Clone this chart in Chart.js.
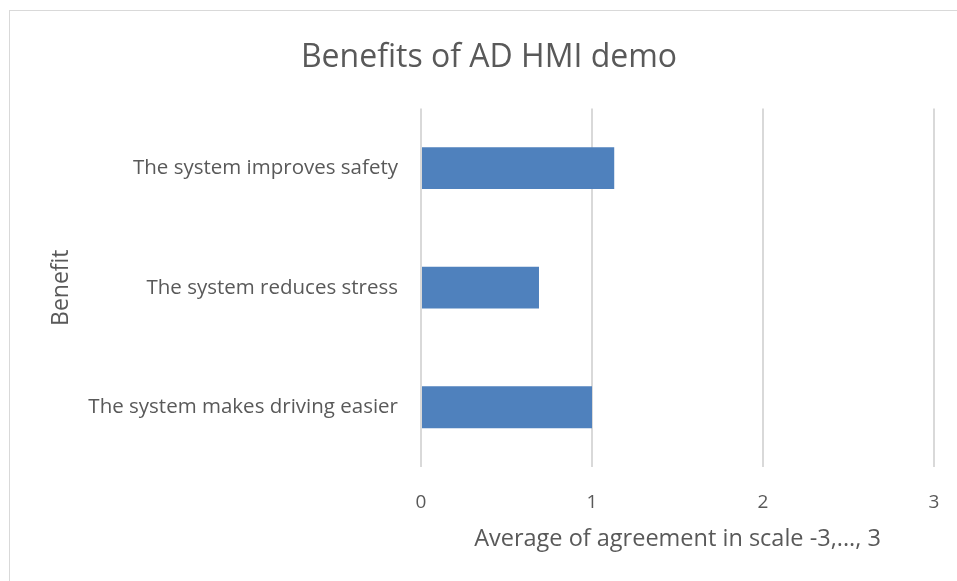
<!DOCTYPE html>
<html>
<head>
<meta charset="utf-8">
<script src="https://cdn.jsdelivr.net/npm/chart.js@4"></script>
<style>
  html, body { margin: 0; padding: 0; background: #fff; }
  .wrap { position: relative; width: 957px; height: 581px; overflow: hidden; }
  .frame { position: absolute; left: 9px; top: 10px; width: 980px; height: 600px; border: 1px solid #d9d9d9; }
  canvas { position: absolute; left: 0; top: 0; }
</style>
</head>
<body>
<div class="wrap">
  <div class="frame"></div>
  <canvas id="chart" width="957" height="581"></canvas>
</div>
<script>
// Benefits chart data
const categories = [
  "The system improves safety",
  "The system reduces stress",
  "The system makes driving easier"
];
const agreement = [1.13, 0.69, 1.0];
const xTicks = [0, 1, 2, 3];

const grey = "#595959";
const fontFamily = "'Open Sans', sans-serif";
const padLeft = 44;
const padRight = 23;

document.addEventListener("DOMContentLoaded", () => {
  const ctx = document.getElementById("chart").getContext("2d");

  new Chart(ctx, {
    type: "bar",
    data: {
      labels: categories,
      datasets: [{
        data: agreement,
        backgroundColor: "#4f81bd",
        borderWidth: 0,
        barPercentage: 0.35,
        categoryPercentage: 1
      }]
    },
    options: {
      indexAxis: "y",
      responsive: false,
      animation: false,
      layout: { padding: { left: padLeft, right: padRight, top: 0, bottom: 0 } },
      plugins: {
        legend: { display: false },
        tooltip: { enabled: false },
        title: {
          display: true,
          text: "Benefits of AD HMI demo",
          color: grey,
          font: { family: fontFamily, size: 32, weight: "normal" },
          padding: { top: 39, bottom: 31 }
        }
      },
      scales: {
        x: {
          min: xTicks[0],
          max: xTicks[xTicks.length - 1],
          afterBuildTicks: scale => {
            scale.ticks = xTicks.map(v => ({ value: v }));
          },
          ticks: {
            color: grey,
            padding: 24,
            font: { family: fontFamily, size: 19 }
          },
          grid: { color: "#d9d9d9", lineWidth: 2, drawTicks: false },
          border: { display: false },
          title: {
            display: true,
            text: "Average of agreement in scale -3,..., 3",
            color: grey,
            font: { family: fontFamily, size: 23.5 },
            padding: { top: 0, bottom: 28 }
          },
          afterFit: scale => {
            scale.height = 114;
            scale.paddingLeft = 0;
            scale.paddingRight = 0;
          }
        },
        y: {
          ticks: {
            color: grey,
            padding: 15,
            font: { family: fontFamily, size: 20.5 }
          },
          grid: { display: false },
          border: { display: false },
          title: {
            display: true,
            text: "Benefit",
            color: grey,
            font: { family: fontFamily, size: 23 },
            padding: { top: 62 - 14 - padLeft, bottom: 0 }
          },
          afterFit: scale => { scale.width = 421 - padLeft; }
        }
      }
    }
  });
});
</script>
</body>
</html>
